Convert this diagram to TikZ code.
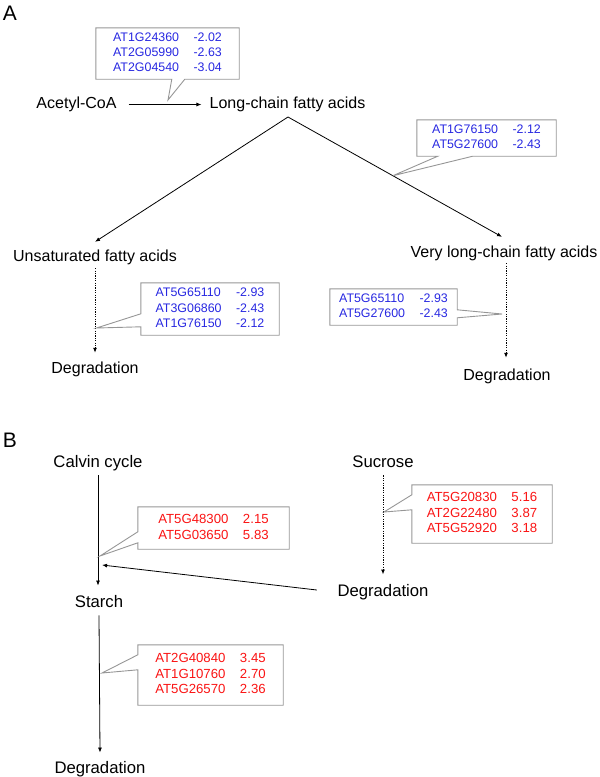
\documentclass[tikz,border=0pt]{standalone}
\usepackage{fontspec}
\setmainfont{Liberation Sans}
\usetikzlibrary{arrows.meta,calc}
\definecolor{genblue}{RGB}{40,40,225}
\definecolor{genred}{RGB}{250,20,20}
\definecolor{boxgray}{RGB}{150,150,150}
\newcommand\genetab[1]{\begin{tabular}{@{}l@{\hspace{14.5pt}}l@{}}#1\end{tabular}}
\begin{document}
\begin{tikzpicture}[x=1pt,y=-1pt,
  lab/.style={inner sep=0pt, text height=11.5pt, text depth=3.4pt, font=\fontsize{16}{19}\selectfont},
  labB/.style={inner sep=0pt, text height=12pt, text depth=3.5pt, font=\fontsize{16.7}{20}\selectfont},
  panel/.style={inner sep=0pt, font=\fontsize{21}{24}\selectfont},
  gA/.style={inner sep=0pt, text=genblue, font=\fontsize{12.4}{15.2}\selectfont},
  gB/.style={inner sep=0pt, text=genred, font=\fontsize{13.2}{15.8}\selectfont},
  cline/.style={draw=boxgray, line width=0.9pt, line join=miter},
  flow/.style={draw=black, line width=0.8pt, -{Latex[length=5pt,width=4pt]}},
  dflow/.style={flow, line width=1pt, dash pattern=on 1.2pt off 1.2pt},
]
\useasboundingbox (0,0) rectangle (600,777);

% panel letters
\node[panel] (pA) at (10,13) {A};
\node[panel] (pB) at (10,440) {B};

% ---------- Panel A ----------
\node[lab] (acetyl) at (76.5,104.5) {Acetyl-CoA};
\node[lab] (lcfa) at (287.5,104.5) {Long-chain fatty acids};
\node[lab] (ufa) at (95,257.5) {Unsaturated fatty acids};
\node[lab] (vlcfa) at (504,253.5) {Very long-chain fatty acids};
\node[lab] (degA1) at (95,369.5) {Degradation};
\node[lab] (degA2) at (507,376.5) {Degradation};

\coordinate (apex) at (288,117);
\coordinate (ufaTip) at ([yshift=8pt]ufa.north);
\coordinate (vlTip) at ([xshift=-2pt,yshift=9pt]vlcfa.north);

\draw[flow, shorten <=12pt, shorten >=8pt] (acetyl.east) -- (lcfa.west);
\draw[flow] (apex) -- (ufaTip);
\draw[flow] (apex) -- (vlTip);
\draw[dflow] ([yshift=-3pt]ufa.south) -- ([yshift=9pt]degA1.north);
\draw[dflow] ([xshift=2pt,yshift=-2pt]vlcfa.south) -- ([xshift=-1pt,yshift=11pt]degA2.north);

% callouts A
\coordinate (t1) at (168,100);
\coordinate (t2) at ($(apex)!0.49!(vlTip)$);
\coordinate (t3) at (96.5,328);
\coordinate (t4) at (502,314);

\node[gA, minimum width=143pt, minimum height=51pt] (g1) at (167.5,53.5)
  {\genetab{AT1G24360 & -2.02\\ AT2G05990 & -2.63\\ AT2G04540 & -3.04}};
\draw[cline] (g1.south west) -- (g1.north west) -- (g1.north east) -- (g1.south east)
  -- ($(g1.south west)+(89,0)$) -- (t1) -- ($(g1.south west)+(76,0)$) -- cycle;

\node[gA, minimum width=139pt, minimum height=36pt] (g2) at (486.5,138)
  {\genetab{AT1G76150 & -2.12\\ AT5G27600 & -2.43}};
\draw[cline] (g2.south west) -- (g2.north west) -- (g2.north east) -- (g2.south east)
  -- ($(g2.south west)+(56,0)$) -- (t2) -- ($(g2.south west)+(21,0)$) -- cycle;

\node[gA, minimum width=138pt, minimum height=52pt] (g3) at (210,309)
  {\genetab{AT5G65110 & -2.93\\ AT3G06860 & -2.43\\ AT1G76150 & -2.12}};
\draw[cline] (g3.north west) -- (g3.north east) -- (g3.south east) -- (g3.south west)
  -- ($(g3.north west)+(0,44)$) -- (t3) -- ($(g3.north west)+(0,31)$) -- cycle;

\node[gA, minimum width=127pt, minimum height=36pt] (g4) at (393.5,307)
  {\genetab{AT5G65110 & -2.93\\ AT5G27600 & -2.43}};
\draw[cline] (g4.north west) -- (g4.north east) -- ($(g4.north east)+(0,21)$) -- (t4)
  -- ($(g4.north east)+(0,29)$) -- (g4.south east) -- (g4.south west) -- cycle;

% ---------- Panel B ----------
\node[labB] (calvin) at (98,463.5) {Calvin cycle};
\node[labB] (sucrose) at (383,463.5) {Sucrose};
\node[labB] (starch) at (99,603.5) {Starch};
\node[labB] (degB1) at (383,592.5) {Degradation};
\node[labB] (degB2) at (100,769.5) {Degradation};

\coordinate (m1) at (102,565);

\draw[flow] ([yshift=-4pt]calvin.south) -- ([xshift=-1pt,yshift=10pt]starch.north);
\draw[dflow] ([yshift=-4pt]sucrose.south) -- ([yshift=10pt]degB1.north);
\draw[flow] ([xshift=-20.5pt,yshift=2.5pt]degB1.west) -- (m1);
\draw[flow] ([yshift=-4pt]starch.south) -- ([yshift=9pt]degB2.north);

% callouts B
\coordinate (t5) at (100,556);
\coordinate (t6) at (384,512);
\coordinate (t7) at (102,673);

\node[gB, minimum width=151pt, minimum height=42pt] (g5) at (213.5,528)
  {\genetab{AT5G48300 & 2.15\\ AT5G03650 & 5.83}};
\draw[cline] (g5.north west) -- (g5.north east) -- (g5.south east) -- (g5.south west)
  -- ($(g5.north west)+(0,36)$) -- (t5) -- ($(g5.north west)+(0,25)$) -- cycle;

\node[gB, minimum width=140pt, minimum height=58pt] (g6) at (482,514)
  {\genetab{AT5G20830 & 5.16\\ AT2G22480 & 3.87\\ AT5G52920 & 3.18}};
\draw[cline] (g6.north west) -- (g6.north east) -- (g6.south east) -- (g6.south west)
  -- ($(g6.north west)+(0,25)$) -- (t6) -- ($(g6.north west)+(0,10)$) -- cycle;

\node[gB, minimum width=145pt, minimum height=60pt] (g7) at (210.5,675)
  {\genetab{AT2G40840 & 3.45\\ AT1G10760 & 2.70\\ AT5G26570 & 2.36}};
\draw[cline] (g7.north west) -- (g7.north east) -- (g7.south east) -- (g7.south west)
  -- ($(g7.north west)+(0,25)$) -- (t7) -- ($(g7.north west)+(0,10)$) -- cycle;

\end{tikzpicture}
\end{document}
